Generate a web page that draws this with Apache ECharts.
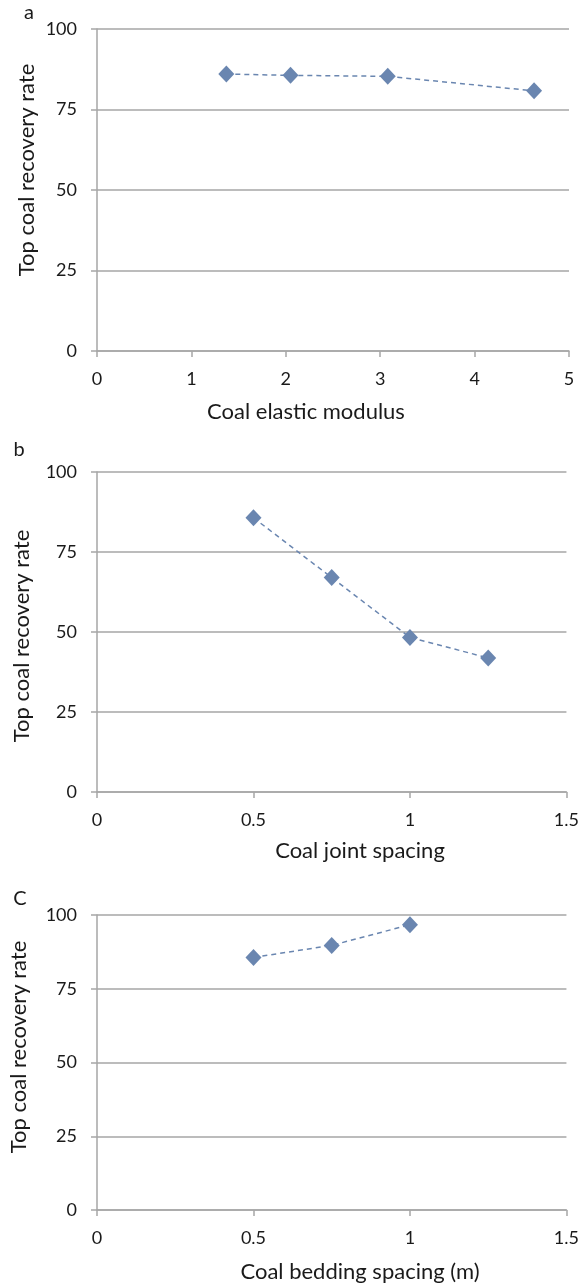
<!DOCTYPE html>
<html>
<head>
<meta charset="utf-8">
<script src="https://cdn.jsdelivr.net/npm/echarts@6/dist/echarts.min.js"></script>
<style>
  html, body { margin: 0; padding: 0; background: #ffffff; }
  #chart { width: 582px; height: 1284px; }
</style>
</head>
<body>
<div id="chart"></div>
<script>
// Panel a: coal elastic modulus vs top coal recovery rate
const elasticModulus = [1.37, 2.05, 3.08, 4.63];
const elasticRecovery = [86.0, 85.6, 85.3, 80.8];

// Panel b: coal joint spacing vs top coal recovery rate
const jointSpacing = [0.5, 0.75, 1.0, 1.25];
const jointRecovery = [85.7, 67.0, 48.3, 41.9];

// Panel c: coal bedding spacing vs top coal recovery rate
const beddingSpacing = [0.5, 0.75, 1.0];
const beddingRecovery = [85.6, 89.7, 96.7];

const panelLetters = ['a', 'b', 'C'];
const xTitles = ['Coal elastic modulus', 'Coal joint spacing', 'Coal bedding spacing (m)'];
const yTitle = 'Top coal recovery rate';

const FONT = 'Lato';
const TEXT = '#1a1a1a';
const GRID_GRAY = '#a6a6a6';
const MARK = '#6a86b0';

const grids = [
  { left: 97, top: 29, width: 472, height: 322 },
  { left: 97, top: 472, width: 474, height: 320 },
  { left: 97, top: 915, width: 472, height: 295 }
];
const xRanges = [
  { min: 0, max: 5, interval: 1 },
  { min: 0, max: 1.5, interval: 0.5 },
  { min: 0, max: 1.5, interval: 0.5 }
];

const xAxes = xRanges.map((r, i) => ({
  type: 'value',
  gridIndex: i,
  min: r.min, max: r.max, interval: r.interval,
  axisLine: { show: true, onZero: false, lineStyle: { color: GRID_GRAY, width: 1.5 } },
  axisTick: { show: true, length: 6, lineStyle: { color: GRID_GRAY, width: 1.5 } },
  splitLine: { show: false },
  axisLabel: { color: TEXT, fontFamily: FONT, fontSize: 18, margin: 19 }
}));

const yAxes = grids.map((g, i) => ({
  type: 'value',
  gridIndex: i,
  min: 0, max: 100, interval: 25,
  axisLine: { show: true, lineStyle: { color: GRID_GRAY, width: 1.5 } },
  axisTick: { show: true, length: 6, lineStyle: { color: GRID_GRAY, width: 1.5 } },
  splitLine: { show: true, lineStyle: { color: GRID_GRAY, width: 1.5 } },
  axisLabel: { color: TEXT, fontFamily: FONT, fontSize: 18, margin: 20 }
}));

function pairs(xs, ys) { return xs.map((x, k) => [x, ys[k]]); }

const seriesData = [
  pairs(elasticModulus, elasticRecovery),
  pairs(jointSpacing, jointRecovery),
  pairs(beddingSpacing, beddingRecovery)
];

const series = seriesData.map((d, i) => ({
  type: 'line',
  xAxisIndex: i,
  yAxisIndex: i,
  data: d,
  symbol: 'diamond',
  symbolSize: [16, 17],
  itemStyle: { color: MARK },
  lineStyle: { color: MARK, width: 1.5, type: [5, 4] },
  animation: false,
  z: 3
}));

// text placed around each panel: letter, x title, rotated y title
const xTitlePos = [[306, 412], [360, 851], [360, 1272]];
const yTitlePos = [[27, 170], [22, 636], [19, 1047]];
const letterPos = [[29, 13], [19, 450], [20, 899]];

const graphics = [];
for (let i = 0; i < 3; i++) {
  graphics.push({
    type: 'text', x: letterPos[i][0], y: letterPos[i][1],
    style: { text: panelLetters[i], fill: TEXT, font: '20px ' + FONT, align: 'center', verticalAlign: 'middle' }
  });
  graphics.push({
    type: 'text', x: xTitlePos[i][0], y: xTitlePos[i][1],
    style: { text: xTitles[i], fill: TEXT, font: '22px ' + FONT, align: 'center', verticalAlign: 'middle' }
  });
  graphics.push({
    type: 'text', x: yTitlePos[i][0], y: yTitlePos[i][1], rotation: Math.PI / 2,
    style: { text: yTitle, fill: TEXT, font: '22px ' + FONT, align: 'center', verticalAlign: 'middle' }
  });
}

const chart = echarts.init(document.getElementById('chart'), null, { renderer: 'canvas' });
chart.setOption({
  backgroundColor: '#ffffff',
  animation: false,
  grid: grids,
  xAxis: xAxes,
  yAxis: yAxes,
  series: series,
  graphic: graphics
});
</script>
</body>
</html>
